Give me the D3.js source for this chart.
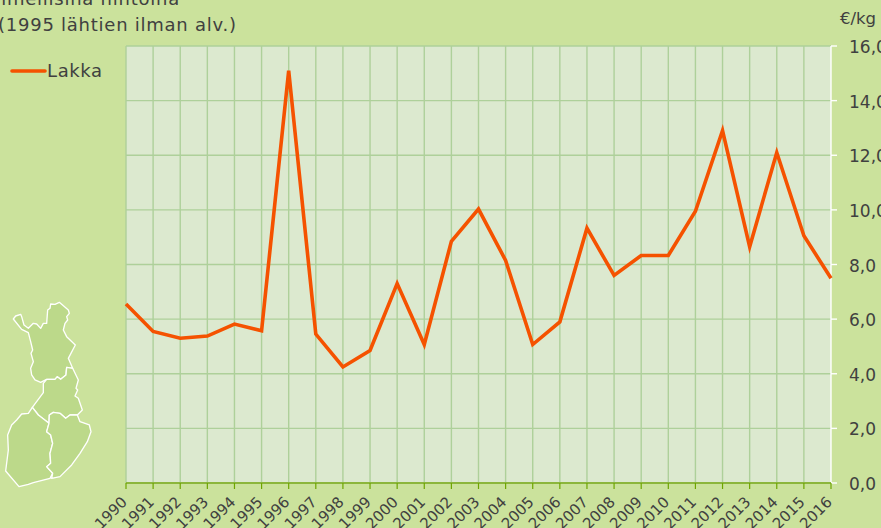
<!DOCTYPE html>
<html><head><meta charset="utf-8">
<script src="https://cdn.jsdelivr.net/npm/d3@7"></script>
<style>html,body{margin:0;padding:0;background:#cbe29c}svg{display:block}text{font-family:"DejaVu Sans",sans-serif;fill:#404040}</style>
</head><body><svg id="c" width="881" height="528"></svg>
<script>
const years=d3.range(1990,2017).map(String);
const lakka=[6.55,5.55,5.3,5.38,5.82,5.57,15.1,5.45,4.25,4.85,7.3,5.07,8.85,10.03,8.15,5.07,5.9,9.33,7.6,8.33,8.33,9.95,12.9,8.65,12.1,9.05,7.5];
const yTicks=[0,2,4,6,8,10,12,14,16];
const titleLines=["Nimellisinä hintoina","(1995 lähtien ilman alv.)"];
const seriesName="Lakka";
const unit="€/kg";
const mapNorth=[[40,87],[47,78],[62,73],[65,80],[72,105],[85,115],[100,100],[110,102],[122,115],[130,100],[140,100],[143,60],[150,55],[152,42],[165,43],[178,37],[205,60],[208,70],[200,80],[203,90],[195,100],[190,120],[200,140],[226,165],[205,205],[218,235],[200,232],[198,255],[182,268],[172,260],[165,268],[140,268],[122,277],[105,270],[95,255],[92,235],[100,215],[93,190],[98,180],[92,155],[85,128],[65,118]];
const mapMiddle=[[130,280],[130,308],[97,352],[115,375],[147,400],[148,375],[160,367],[180,370],[197,385],[210,375],[232,375],[247,360],[235,325],[225,318],[233,300],[228,295],[235,270],[218,235],[200,232],[198,255],[182,268],[172,260],[165,268],[140,268]];
const mapWest=[[97,352],[85,370],[65,372],[50,390],[35,405],[23,435],[25,480],[17,543],[57,590],[85,583],[100,578],[150,565],[158,550],[140,530],[152,520],[150,490],[158,460],[152,435],[140,425],[147,400],[115,375]];
const mapEast=[[148,375],[147,400],[140,425],[152,435],[158,460],[150,490],[152,520],[140,530],[158,550],[155,565],[180,560],[215,525],[240,490],[262,455],[273,425],[268,405],[240,395],[232,375],[210,375],[197,385],[180,370],[160,367]];
const svg=d3.select("#c");
const x=d3.scalePoint().domain(years).range([126,831]);
const y=d3.scaleLinear().domain([0,16]).range([483,46]);
svg.append("rect").attr("x",126).attr("y",y(16)).attr("width",705).attr("height",y(0)-y(16)).attr("fill","#dce9cf");
svg.append("g").selectAll("line").data(yTicks.filter(d=>d>0)).join("line")
 .attr("x1",126).attr("x2",831).attr("y1",y).attr("y2",y).attr("stroke","#aed09a").attr("stroke-width",1.4);
svg.append("g").selectAll("line").data(years.slice(0,-1)).join("line")
 .attr("x1",x).attr("x2",x).attr("y1",46).attr("y2",483).attr("stroke","#aed09a").attr("stroke-width",1.4);
svg.append("line").attr("x1",831).attr("x2",831).attr("y1",46).attr("y2",484).attr("stroke","#fff").attr("stroke-width",1.4);
svg.append("g").selectAll("line").data(yTicks).join("line")
 .attr("x1",831).attr("x2",837).attr("y1",y).attr("y2",y).attr("stroke","#fff").attr("stroke-width",1.4);
svg.append("g").selectAll("text").data(yTicks).join("text")
 .attr("x",849).attr("y",d=>y(d)+7).attr("font-size",17).text(d=>d3.format(".1f")(d).replace(".",","));
svg.append("line").attr("x1",126).attr("x2",831).attr("y1",483).attr("y2",483).attr("stroke","#8cb63c").attr("stroke-width",2);
svg.append("g").selectAll("line").data(years).join("line")
 .attr("x1",x).attr("x2",x).attr("y1",483).attr("y2",489).attr("stroke","#6ea500").attr("stroke-width",1.2);
svg.append("g").selectAll("text").data(years).join("text")
 .attr("transform",d=>`translate(${x(d)-5.5},${495.5}) rotate(-45)`).attr("text-anchor","end").attr("dy","0.7em").attr("font-size",15).text(d=>d);
svg.append("path").datum(lakka).attr("fill","none").attr("stroke","#f55200").attr("stroke-width",3.6).attr("stroke-linejoin","miter")
 .attr("d",d3.line().x((d,i)=>x(years[i])).y(d=>y(d)));
svg.append("line").attr("x1",12).attr("x2",45).attr("y1",71).attr("y2",71).attr("stroke","#f55200").attr("stroke-width",3.6).attr("stroke-linecap","round");
svg.append("text").attr("x",47).attr("y",77).attr("font-size",18).attr("letter-spacing",0.6).text(seriesName);
svg.selectAll("text.t").data(titleLines).join("text").attr("class","t").attr("x",(d,i)=>i?-2:-13).attr("y",(d,i)=>i?31:5).attr("font-size",18).attr("letter-spacing",0.75).text(d=>d);
svg.append("text").attr("x",840).attr("y",24).attr("font-size",16.5).text(unit);
const poly=d3.line().curve(d3.curveLinearClosed);
const map=svg.append("g").attr("transform","translate(0,290) scale(0.3333)");
[mapNorth,mapMiddle,mapWest,mapEast].forEach(p=>map.append("path").attr("d",poly(p)).attr("fill","#bcd98a").attr("stroke","#fff").attr("stroke-width",4).attr("stroke-linejoin","round"));
</script></body></html>
